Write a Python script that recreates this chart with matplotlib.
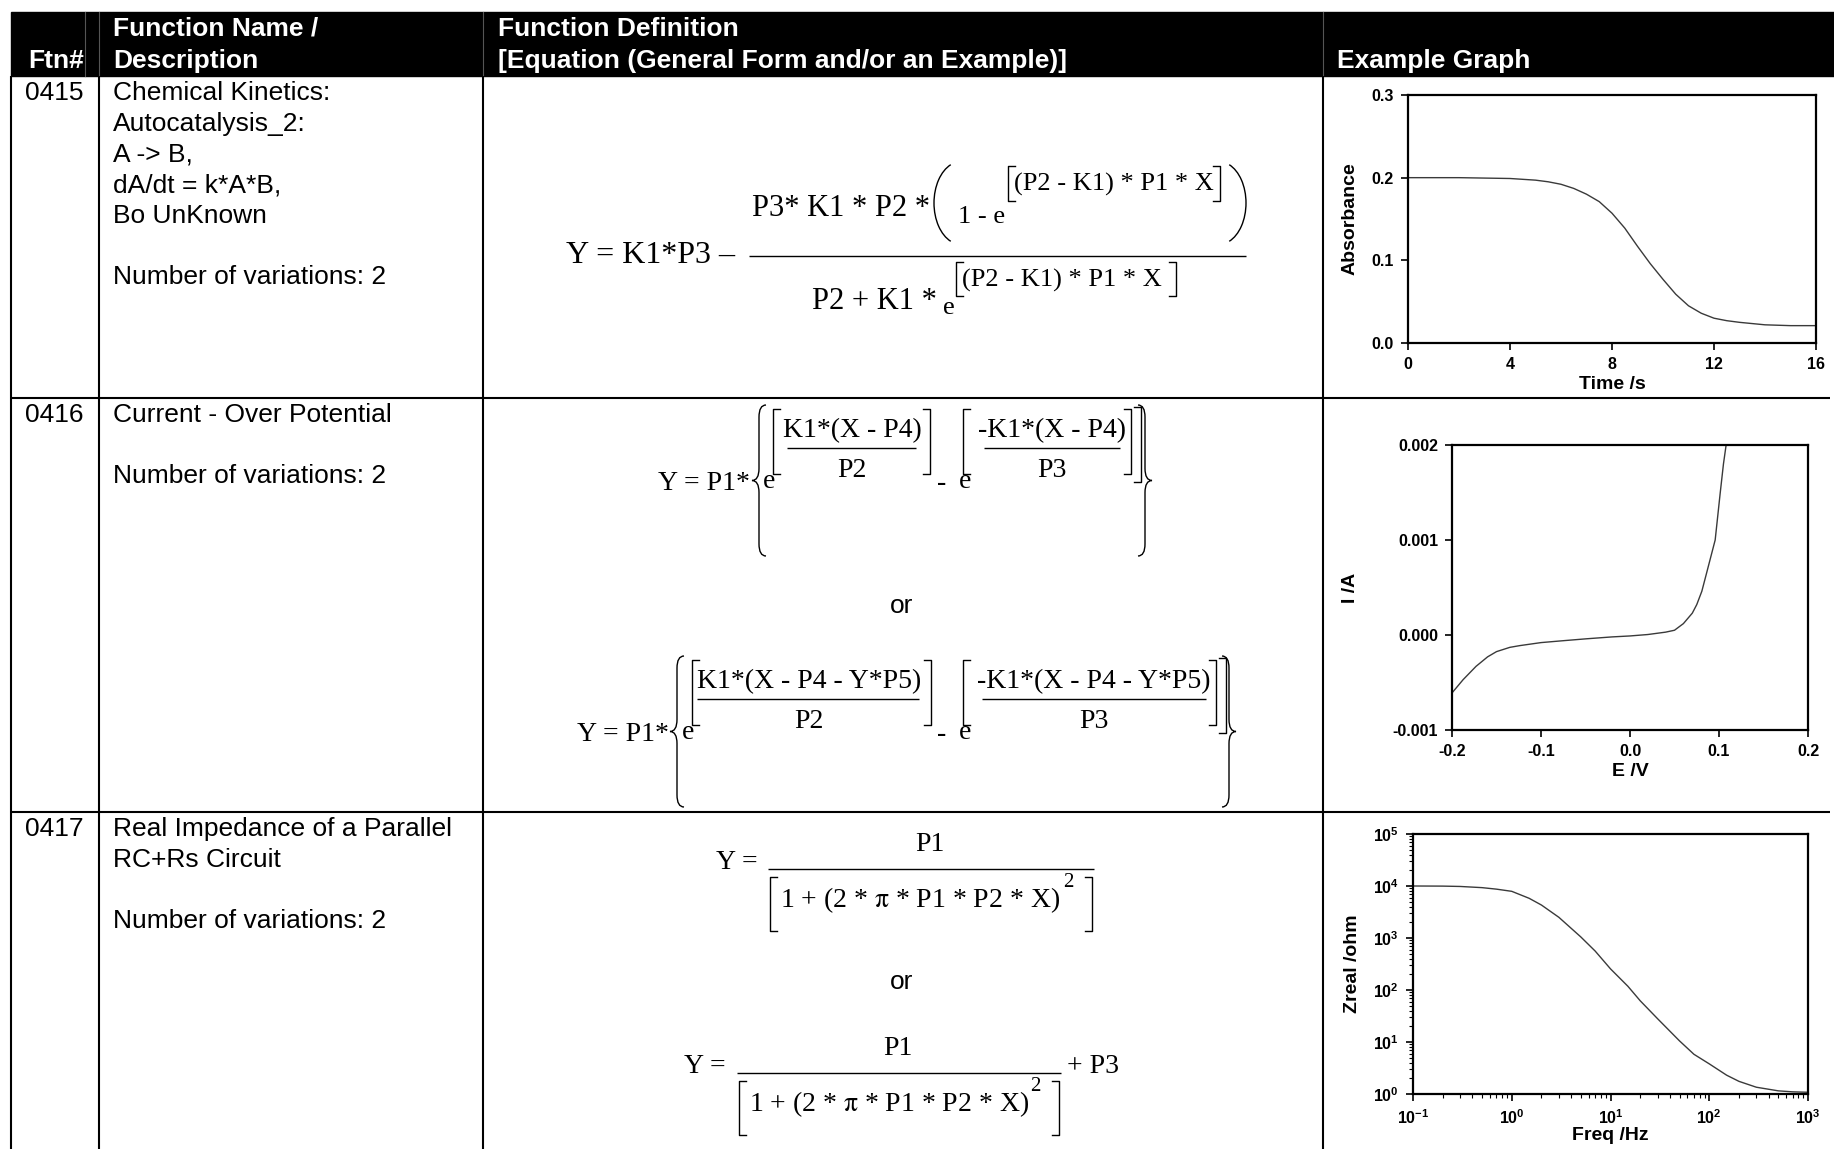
import matplotlib
matplotlib.use("Agg")
import matplotlib.pyplot as plt
from matplotlib.patches import Rectangle, Arc, PathPatch
from matplotlib.path import Path

plt.rcParams['font.family'] = ['Liberation Sans', 'DejaVu Sans']
plt.rcParams['axes.unicode_minus'] = False
plt.rcParams['mathtext.fontset'] = 'custom'
plt.rcParams['mathtext.rm'] = 'Liberation Sans'
plt.rcParams['mathtext.bf'] = 'Liberation Sans:bold'
plt.rcParams['mathtext.default'] = 'rm'

# --- table text ---
ftn_ids = ["0415", "0416", "0417"]
descriptions = [
    ["Chemical Kinetics:", "Autocatalysis_2:", "A -> B,", "dA/dt = k*A*B,", "Bo UnKnown", "",
     "Number of variations: 2"],
    ["Current - Over Potential", "", "Number of variations: 2"],
    ["Real Impedance of a Parallel", "RC+Rs Circuit", "", "Number of variations: 2"],
]

# --- example graph data ---
time_s = [0, 2, 4, 5, 5.5, 6, 6.5, 7, 7.5, 8, 8.5, 9, 9.5, 10, 10.5, 11, 11.5, 12, 12.5, 13,
          14, 15, 16]
absorbance = [0.200, 0.200, 0.199, 0.197, 0.195, 0.192, 0.187, 0.180, 0.171, 0.157, 0.139,
              0.117, 0.096, 0.077, 0.059, 0.045, 0.036, 0.030, 0.027, 0.025, 0.022, 0.021, 0.021]

e_volt = [-0.2, -0.1875, -0.173, -0.16, -0.15, -0.135, -0.124, -0.1, -0.075, -0.049, -0.02, 0.0,
          0.02, 0.04, 0.05, 0.06, 0.07, 0.075, 0.0807, 0.086, 0.0957, 0.1013, 0.105, 0.108]
i_amp = [-0.00061, -0.00047, -0.00033, -0.00023, -0.000175, -0.00013, -0.000112, -0.00008,
         -0.00006, -0.00004, -0.00002, -0.00001, 0.000005, 0.00003, 0.00005, 0.00012, 0.00023,
         0.00032, 0.00046, 0.00065, 0.001, 0.00149, 0.0018, 0.002]

freq_hz = [0.1, 0.2, 0.3, 0.5, 0.7, 1, 1.5, 2, 3, 5, 7, 10, 15, 20, 30, 50, 70, 100, 150, 200,
           300, 500, 700, 1000]
zreal = [10000, 9950, 9800, 9300, 8700, 7900, 5800, 4300, 2500, 1050, 560, 255, 118, 62, 28,
         10.5, 5.8, 3.8, 2.3, 1.75, 1.35, 1.15, 1.1, 1.08]

W, H = 1834, 1149
fig = plt.figure(figsize=(W / 100, H / 100), dpi=100)
bg = fig.add_axes([0, 0, 1, 1])
bg.set_xlim(0, W)
bg.set_ylim(H, 0)
bg.axis('off')

# header bar
bg.add_patch(Rectangle((11, 12), W - 11, 64, color='black'))
for x in [85, 99, 483, 1323]:
    bg.plot([x, x], [12, 76], color='#555555', lw=0.8)
hdr = dict(color='white', fontweight='bold', fontsize=19, va='center')
bg.text(84, 61, "Ftn#", ha='right', **hdr)
bg.text(113, 29, "Function Name /", ha='left', **hdr)
bg.text(113, 61, "Description", ha='left', **hdr)
bg.text(498, 29, "Function Definition", ha='left', **hdr)
bg.text(498, 61, "[Equation (General Form and/or an Example)]", ha='left', **hdr)
bg.text(1337, 61, "Example Graph", ha='left', **hdr)

# grid lines
lw = 1.5
for x in [11, 99, 483, 1323]:
    bg.plot([x, x], [76, H], color='black', lw=lw, solid_capstyle='butt')
for y in [398, 812]:
    bg.plot([11, 1830], [y, y], color='black', lw=lw, solid_capstyle='butt')

# row text
row_tops = [93, 415, 829]
step = 30.7
for top, fid, lines in zip(row_tops, ftn_ids, descriptions):
    bg.text(25, top, fid, fontsize=19, va='center', ha='left')
    for k, line in enumerate(lines):
        bg.text(113, top + k * step, line, fontsize=19, va='center', ha='left')

bg.text(902, 606, "or", fontsize=19, ha='center', va='center')
bg.text(902, 982, "or", fontsize=19, ha='center', va='center')


# --- equation helpers (pixel coords on the background axes) ---
def T(x, cy, s, size, ha='left', caps=True):
    em = size * 100 / 72
    base = cy + (0.33 * em if caps else 0.23 * em)
    bg.text(x, base, s, fontsize=size, family='Liberation Serif', ha=ha, va='baseline',
            math_fontfamily='stix')


def bar(x0, x1, y):
    bg.plot([x0, x1], [y, y], color='black', lw=1.0, solid_capstyle='butt')


def sq(x, y0, y1, side, w=7):
    d = w if side == 'l' else -w
    bg.plot([x + d, x, x, x + d], [y0, y0, y1, y1], color='black', lw=1.0)


def paren(x0, x1, y0, y1, side):
    half = (x1 - x0) / 0.74
    h = (y1 - y0) / 0.966
    cy = (y0 + y1) / 2
    if side == 'l':
        bg.add_patch(Arc((x0 + half, cy), 2 * half, h, theta1=105, theta2=255, color='black', lw=1.0))
    else:
        bg.add_patch(Arc((x1 - half, cy), 2 * half, h, theta1=-75, theta2=75, color='black', lw=1.0))


def brace(x0, x1, y0, y1, side):
    xm = (x0 + x1) / 2
    ym = (y0 + y1) / 2
    d = (y1 - y0) * 0.08
    tip, outer = (x0, x1) if side == 'l' else (x1, x0)
    verts = [(outer, y0), (xm, y0), (xm, y0 + d), (xm, ym - d), (xm, ym), (tip, ym),
             (xm, ym), (xm, ym + d), (xm, y1 - d), (xm, y1), (outer, y1)]
    codes = [Path.MOVETO, Path.CURVE3, Path.CURVE3, Path.LINETO, Path.CURVE3, Path.CURVE3,
             Path.CURVE3, Path.CURVE3, Path.LINETO, Path.CURVE3, Path.CURVE3]
    bg.add_patch(PathPatch(Path(verts, codes), fill=False, color='black', lw=1.0))


# equation 0415
T(566, 252, "Y = K1*P3 \u2013", 23)
bar(749, 1246, 256)
T(752, 206, "P3* K1 * P2 *", 22)
paren(934, 954, 163, 243, 'l')
T(958, 214, "1 - e", 19)
sq(1008, 166, 201, 'l')
T(1014, 182, "(P2 - K1) * P1 * X", 19)
sq(1220, 166, 201, 'r')
paren(1226, 1246, 163, 243, 'r')
T(812, 299, "P2 + K1 *", 22)
T(943, 308, "e", 19, caps=False)
sq(956, 262, 296, 'l')
T(962, 278, "(P2 - K1) * P1 * X", 19)
sq(1176, 262, 296, 'r')

# equation 0416 (two forms)
for dy, num1, num2, xs in [
        (0, "K1*(X - P4)", "-K1*(X - P4)",
         dict(y=658, br=752, e1=763, b1=773, c1=852, f1=(787, 916), r1=930,
              m=937, e2=959, b2=963, c2=1052, f2=(984, 1120), r2=1131, r3=1141, br2=1138)),
        (251, "K1*(X - P4 - Y*P5)", "-K1*(X - P4 - Y*P5)",
         dict(y=577, br=670, e1=682, b1=692, c1=809, f1=(697, 919), r1=931,
              m=937, e2=959, b2=963, c2=1094, f2=(982, 1206), r2=1216, r3=1226, br2=1222))]:
    T(xs['y'], 481 + dy, "Y = P1*", 20)
    brace(xs['br'], xs['br'] + 14, 405 + dy, 556 + dy, 'l')
    T(xs['e1'], 482 + dy, "e", 20, caps=False)
    sq(xs['b1'], 409 + dy, 474 + dy, 'l')
    T(xs['c1'], 428 + dy, num1, 20, ha='center')
    bar(xs['f1'][0], xs['f1'][1], 448 + dy)
    T(xs['c1'], 468 + dy, "P2", 20, ha='center')
    sq(xs['r1'], 409 + dy, 474 + dy, 'r')
    T(xs['m'], 484 + dy, "-", 20, caps=False)
    T(xs['e2'], 482 + dy, "e", 20, caps=False)
    sq(xs['b2'], 409 + dy, 474 + dy, 'l')
    T(xs['c2'], 428 + dy, num2, 20, ha='center')
    bar(xs['f2'][0], xs['f2'][1], 448 + dy)
    T(xs['c2'], 468 + dy, "P3", 20, ha='center')
    sq(xs['r2'], 409 + dy, 474 + dy, 'r')
    sq(xs['r3'], 407 + dy, 482 + dy, 'r')
    brace(xs['br2'], xs['br2'] + 14, 405 + dy, 556 + dy, 'r')

# equation 0417 (two forms)
for x_y, x0, x1, cx, y_eq, extra in [(716, 768, 1094, 930, 860, False),
                                     (684, 737, 1061, 898, 1064, True)]:
    T(x_y, y_eq, "Y =", 20)
    bar(x0, x1, y_eq + 9)
    T(cx, y_eq - 18, "P1", 20, ha='center')
    sq(x0 + 2, y_eq + 17, y_eq + 71, 'l')
    T(x0 + 12, y_eq + 38, r"1 + (2 * $\pi$ * P1 * P2 * X)", 20)
    T(x1 - 31, y_eq + 20, "2", 15)
    sq(x1 - 2, y_eq + 17, y_eq + 71, 'r')
    if extra:
        T(x1 + 6, y_eq, "+ P3", 20)


def px_axes(left, top, right, bottom):
    return fig.add_axes([left / W, 1 - bottom / H, (right - left) / W, (bottom - top) / H])


def style(ax, ylab_x, xlab_y):
    for s in ax.spines.values():
        s.set_linewidth(1.6)
    ax.tick_params(direction='out', length=5, width=1.2, pad=5, labelsize=11.5,
                   top=False, right=False)
    ax.tick_params(which='minor', direction='out', length=3, width=0.8, top=False, right=False)
    ax.yaxis.set_label_coords(ylab_x, 0.5)
    ax.xaxis.set_label_coords(0.5, xlab_y)


lbl = dict(fontsize=14, fontweight='bold')
tk = dict(fontweight='bold')

# graph 1
ax1 = px_axes(1408, 95, 1816, 343)
ax1.plot(time_s, absorbance, color='#3a3a3a', lw=1.0)
ax1.set_xlim(0, 16)
ax1.set_ylim(0, 0.3)
ax1.set_xticks([0, 4, 8, 12, 16], ["0", "4", "8", "12", "16"], **tk)
ax1.set_yticks([0, 0.1, 0.2, 0.3], ["0.0", "0.1", "0.2", "0.3"], **tk)
ax1.set_xlabel("Time /s", **lbl)
ax1.set_ylabel("Absorbance", **lbl)
style(ax1, (1359 - 1408) / 408, -33 / 248)

# graph 2
ax2 = px_axes(1452, 445, 1808, 730)
ax2.plot(e_volt, i_amp, color='#3a3a3a', lw=1.0)
ax2.set_xlim(-0.2, 0.2)
ax2.set_ylim(-0.001, 0.002)
ax2.set_xticks([-0.2, -0.1, 0, 0.1, 0.2], ["-0.2", "-0.1", "0.0", "0.1", "0.2"], **tk)
ax2.set_yticks([-0.001, 0, 0.001, 0.002], ["-0.001", "0.000", "0.001", "0.002"], **tk)
ax2.set_xlabel("E /V", **lbl)
ax2.set_ylabel("I /A", **lbl)
style(ax2, (1359 - 1452) / 356, -33 / 285)

# graph 3
ax3 = px_axes(1413, 834, 1808, 1094)
ax3.plot(freq_hz, zreal, color='#3a3a3a', lw=1.0)
ax3.set_xscale('log')
ax3.set_yscale('log')
ax3.set_xlim(0.1, 1000)
ax3.set_ylim(1, 1e5)
ax3.set_xticks([0.1, 1, 10, 100, 1000],
               [r'$\mathbf{10^{-1}}$', r'$\mathbf{10^{0}}$', r'$\mathbf{10^{1}}$',
                r'$\mathbf{10^{2}}$', r'$\mathbf{10^{3}}$'], **tk)
ax3.set_yticks([1, 10, 100, 1e3, 1e4, 1e5],
               [r'$\mathbf{10^{0}}$', r'$\mathbf{10^{1}}$', r'$\mathbf{10^{2}}$',
                r'$\mathbf{10^{3}}$', r'$\mathbf{10^{4}}$', r'$\mathbf{10^{5}}$'], **tk)
ax3.set_xlabel("Freq /Hz", **lbl)
ax3.set_ylabel("Zreal /ohm", **lbl)
style(ax3, (1361 - 1413) / 395, -33 / 260)

fig.savefig("out.png", dpi=100)
